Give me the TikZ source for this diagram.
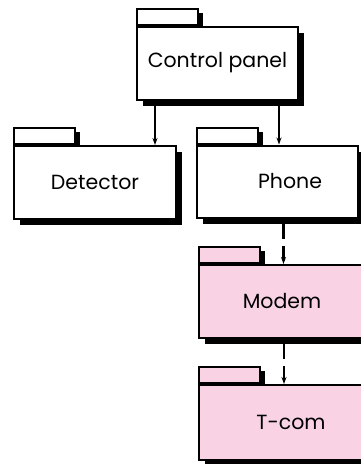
\documentclass[tikz,border=0pt]{standalone}
\usepackage{fontspec}
\setmainfont{Poppins}
\usetikzlibrary{arrows.meta, positioning, shadows, backgrounds}
\definecolor{pinkpkg}{HTML}{F9D3E4}

\begin{document}
\begin{tikzpicture}[x=1pt, y=-1pt,
    pk/.style={draw, line width=2pt, fill=white, minimum width=161pt,
               minimum height=73pt, inner sep=0pt, font=\fontsize{20.5}{24}\selectfont,
               drop shadow={shadow xshift=6pt, shadow yshift=-6pt, opacity=1, fill=black}},
    tab/.style={draw, line width=2pt, fill=white, minimum width=61pt,
                minimum height=16pt, inner sep=0pt, anchor=south west,
                drop shadow={shadow xshift=5pt, shadow yshift=-4pt, opacity=1, fill=black}},
    ar/.style={-{Stealth[length=7pt, width=5pt]}, line width=2pt},
    dar/.style={ar, line width=2.4pt, dash pattern=on 20pt off 7pt}
  ]
  \useasboundingbox (0,0) rectangle (361,464);
  \clip (0,0) rectangle (361,464);

  % packages
  \node[pk] (cp)    at (217.5,63)  {Control panel};
  \node[pk, minimum width=162pt] (det) at (95,182.5) {Detector};
  \node[pk, minimum height=72pt] (phone) at (277.5,181.5) {\hspace*{25pt}Phone};
  \node[pk, fill=pinkpkg, minimum width=166pt] (modem) at (282,301.5) {Modem};
  \node[pk, fill=pinkpkg, minimum width=166pt, minimum height=75pt] (tcom) at (282,422.5) {\hspace*{18pt}T-com};

  % tabs
  \begin{scope}[on background layer]
    \node[tab] (cp-tab)    at (cp.north west)    {};
    \node[tab] (det-tab)   at (det.north west)   {};
    \node[tab] (phone-tab) at (phone.north west) {};
    \node[tab, fill=pinkpkg] (modem-tab) at (modem.north west) {};
    \node[tab, fill=pinkpkg] (tcom-tab)  at (tcom.north west)  {};
  \end{scope}

  % dependencies
  \draw[ar] ([xshift=19pt]cp.south west) -- ([xshift=19pt]cp.south west |- det.north);
  \draw[ar] ([xshift=-20pt]cp.south east) -- ([xshift=-20pt]cp.south east |- phone.north);
  \draw[dar] ([xshift=6pt]phone.south) -- ([xshift=6pt]phone.south |- modem.north);
  \draw[dar] ([xshift=2pt]modem.south) -- ([xshift=2pt]modem.south |- tcom.north);
\end{tikzpicture}
\end{document}
